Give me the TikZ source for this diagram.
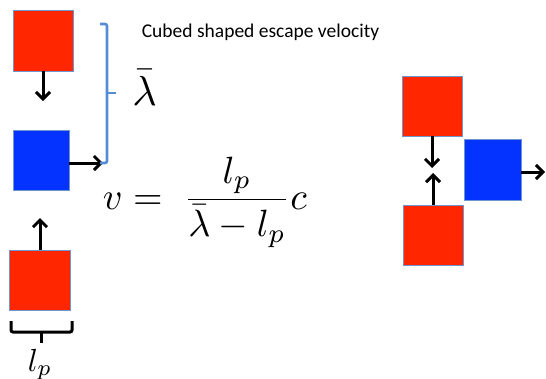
\documentclass[tikz,border=0pt]{standalone}
\usepackage{fontspec}
\newfontfamily\calibri{Carlito}
\usetikzlibrary{arrows.meta}
\definecolor{boxred}{RGB}{255,38,0}
\definecolor{boxblue}{RGB}{4,51,255}
\definecolor{edgeblue}{RGB}{110,150,205}
\definecolor{brk}{RGB}{84,141,212}
\begin{document}
\begin{tikzpicture}[x=1pt,y=-1pt,
  cube/.style={draw=edgeblue,line width=0.8pt,inner sep=0pt},
  redcube/.style={cube,fill=boxred},
  bluecube/.style={cube,fill=boxblue},
  arr/.style={line width=3pt,-{Straight Barb[length=7pt,width=14pt]}},
  brace/.style={line width=3pt,rounded corners=2pt}]
\useasboundingbox (0,0) rectangle (546,378);
% left column
\node[redcube,minimum width=60pt,minimum height=61pt] (r1) at (43,40.5) {};
\node[bluecube,minimum width=56pt,minimum height=60pt] (b1) at (41,160) {};
\node[redcube,minimum width=61pt,minimum height=60pt] (r2) at (39.5,280) {};
\coordinate (e1) at (43,101);
\coordinate (s2) at (69,163);
\coordinate (e2) at (103,163);
\coordinate (e3) at (40,218);
\draw[arr] (r1.south) -- (e1);
\draw[arr] (s2) -- (e2);
\draw[arr] (r2.north -| e3) -- (e3);
% right cluster
\node[redcube,minimum width=60pt,minimum height=60pt] (r3) at (432,106) {};
\node[redcube,minimum width=60pt,minimum height=60pt] (r4) at (433,235) {};
\node[bluecube,minimum width=57pt,minimum height=61pt] (b2) at (492.5,169.5) {};
\coordinate (e4) at (432,168);
\coordinate (e5) at (433,173);
\coordinate (s6) at (521,172);
\coordinate (e6) at (545,172);
\draw[arr] (r3.south) -- (e4);
\draw[arr] (r4.north) -- (e5);
\draw[arr] (s6) -- (e6);
% blue bracket
\draw[brk,brace,line width=2.6pt] (100,24) -- (107,24) -- (107,163) -- (100,163);
\draw[brk,line width=2.6pt] (107,93) -- (116,93);
% black brace
\draw[brace] (11,321) -- (11,332) -- (72,332) -- (72,321);
\draw[line width=3pt] (41,332) -- (41,343);
% texts
\node[font=\calibri\fontsize{19.5}{23}\selectfont,anchor=base,inner sep=0pt] (title) at (260.5,37) {Cubed shaped escape velocity};
\node[scale=4.2,anchor=base,inner sep=0pt] (lam) at (144.5,105) {$\bar\lambda$};
\node[scale=3.8,anchor=base west,inner sep=0pt] (eq) at (102,209) {$\displaystyle v=\;\frac{l_p}{\bar\lambda-l_p}c$};
\node[scale=3.2,anchor=base,inner sep=0pt] (lp) at (40,371) {$l_p$};
\end{tikzpicture}
\end{document}
